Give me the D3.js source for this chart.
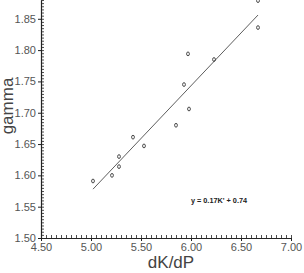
<!DOCTYPE html>
<html lang="en">
<head>
<meta charset="UTF-8">
<title>gamma vs dK/dP</title>
<script src="https://d3js.org/d3.v7.min.js"></script>
<style>
  body { margin: 0; background: #fff; }
  svg text { font-family: "Liberation Sans", "DejaVu Sans", sans-serif; }
</style>
</head>
<body>
<svg id="chart" width="304" height="273"></svg>
<script>
// data
const dkdp  = [5.02, 5.21, 5.28, 5.28, 5.42, 5.53, 5.85, 5.98, 5.93, 5.97, 6.23, 6.67, 6.67];
const gamma = [1.591, 1.600, 1.630, 1.614, 1.661, 1.647, 1.680, 1.706, 1.745, 1.794, 1.785, 1.879, 1.836];
const fitX = [5.02, 6.67];
const fitY = [1.578, 1.856];
const xTicks = [4.5, 5.0, 5.5, 6.0, 6.5, 7.0];
const yTicks = [1.50, 1.55, 1.60, 1.65, 1.70, 1.75, 1.80, 1.85];
const equation = "y = 0.17K' + 0.74";

const svg = d3.select('#chart');
const x = d3.scaleLinear().domain([4.5, 7.0]).range([41, 291]);
const y = d3.scaleLinear().domain([1.5, 1.88]).range([238, 0]);

const axisCol = '#222';
const textCol = '#555';

// minor ticks
const xMinor = d3.range(0, 51).map(i => 4.5 + i * 0.05);
const yMinor = d3.range(0, 77).map(i => 1.5 + i * 0.005);

svg.append('g')
    .attr('transform', `translate(0,${y(1.5)})`)
    .call(d3.axisTop(x).tickValues(xMinor).tickSize(3).tickFormat('').tickSizeOuter(0))
    .call(g => g.select('.domain').remove())
    .selectAll('line').attr('stroke', axisCol).attr('stroke-width', 0.8);

svg.append('g')
    .attr('transform', `translate(${x(4.5)},0)`)
    .call(d3.axisRight(y).tickValues(yMinor).tickSize(3).tickFormat('').tickSizeOuter(0))
    .call(g => g.select('.domain').remove())
    .selectAll('line').attr('stroke', axisCol).attr('stroke-width', 0.8);

// major ticks + labels
const xAxis = svg.append('g')
    .attr('transform', `translate(0,${y(1.5)})`)
    .call(d3.axisBottom(x).tickValues(xTicks).tickSize(3).tickPadding(2).tickFormat(d3.format('.2f')).tickSizeOuter(0));
xAxis.select('.domain').attr('stroke', axisCol).attr('stroke-width', 1.2);
xAxis.selectAll('line').attr('stroke', axisCol);
xAxis.selectAll('text').attr('font-size', 11).attr('fill', textCol);

const yAxis = svg.append('g')
    .attr('transform', `translate(${x(4.5)},0)`)
    .call(d3.axisLeft(y).tickValues(yTicks).tickSize(3).tickPadding(2).tickFormat(d3.format('.2f')).tickSizeOuter(0));
yAxis.select('.domain').attr('stroke', axisCol).attr('stroke-width', 1.2);
yAxis.selectAll('line').attr('stroke', axisCol);
yAxis.selectAll('text').attr('font-size', 11).attr('fill', textCol);

// regression line
svg.append('line')
    .attr('x1', x(fitX[0])).attr('y1', y(fitY[0]))
    .attr('x2', x(fitX[1])).attr('y2', y(fitY[1]))
    .attr('stroke', '#333').attr('stroke-width', 0.8);

// points
svg.selectAll('.pt')
    .data(dkdp.map((d, i) => [d, gamma[i]]))
    .enter().append('ellipse')
    .attr('class', 'pt')
    .attr('cx', d => x(d[0]))
    .attr('cy', d => y(d[1]))
    .attr('rx', 1.4).attr('ry', 1.9)
    .attr('fill', 'none')
    .attr('stroke', '#222')
    .attr('stroke-width', 0.8);

// equation
svg.append('text')
    .attr('x', x(6.28)).attr('y', y(1.5) - 35)
    .attr('text-anchor', 'middle')
    .attr('font-size', 7.3)
    .attr('font-weight', 'bold')
    .attr('fill', '#222')
    .text(equation);

// axis titles
svg.append('text')
    .attr('x', 171).attr('y', 268)
    .attr('text-anchor', 'middle')
    .attr('font-size', 17)
    .attr('fill', '#444')
    .text('dK/dP');

svg.append('text')
    .attr('transform', 'translate(13,106) rotate(-90)')
    .attr('text-anchor', 'middle')
    .attr('font-size', 17)
    .attr('fill', '#444')
    .text('gamma');
</script>
</body>
</html>
